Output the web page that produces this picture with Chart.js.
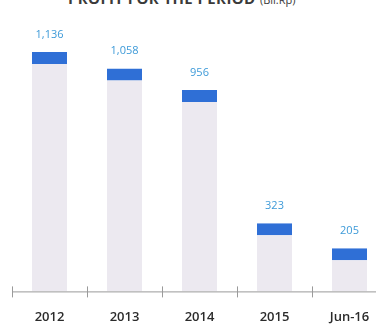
<!DOCTYPE html>
<html>
<head>
<meta charset="utf-8">
<script src="https://cdn.jsdelivr.net/npm/chart.js@4.4.1/dist/chart.umd.min.js"></script>
<style>
  html, body { margin: 0; padding: 0; background: #fff; overflow: hidden; }
  #wrap { position: relative; width: 376px; height: 324px; overflow: hidden; }
  #title {
    position: absolute; left: 68px; top: -9px; white-space: nowrap;
    font-family: "Open Sans", sans-serif; font-weight: 700; font-size: 15px; color: #3a3a3a;
    line-height: 15px; letter-spacing: 0.4px;
  }
  #title span { font-size: 11px; font-weight: 400; letter-spacing: 0; }
  #chartBox { position: absolute; left: 0; top: 0; width: 400px; height: 335px; }
</style>
</head>
<body>
<div id="wrap">
  <div id="title">PROFIT FOR THE PERIOD <span>(Bil.Rp)</span></div>
  <div id="chartBox"><canvas id="chart"></canvas></div>
</div>
<script>
const periods = ['2012', '2013', '2014', '2015', 'Jun-16'];
const profit = [1136, 1058, 956, 323, 205];

// 値ラベル（棒の上に表示）
const valueLabels = {
  id: 'valueLabels',
  afterDatasetsDraw(chart) {
    const ctx = chart.ctx;
    const meta = chart.getDatasetMeta(0);
    ctx.save();
    ctx.font = '11px "Open Sans", sans-serif';
    ctx.fillStyle = '#3d9ad8';
    ctx.textAlign = 'center';
    ctx.textBaseline = 'bottom';
    meta.data.forEach((bar, i) => {
      ctx.fillText(profit[i].toLocaleString('en-US'), bar.x, bar.y - 12);
    });
    ctx.restore();
  }
};

// X軸の目盛り線（軸をまたぐ短い線）
const axisTicks = {
  id: 'axisTicks',
  afterDraw(chart) {
    const ctx = chart.ctx;
    const x = chart.scales.x;
    const y = chart.chartArea.bottom;
    ctx.save();
    ctx.strokeStyle = '#9a9a9a';
    ctx.lineWidth = 1;
    ctx.beginPath();
    ctx.moveTo(x.left, y + 0.5);
    ctx.lineTo(x.right, y + 0.5);
    for (let i = 0; i <= periods.length; i++) {
      const px = Math.round(x.left + i * x.width / periods.length) + 0.5;
      ctx.moveTo(px, y - 5);
      ctx.lineTo(px, y + 6);
    }
    ctx.stroke();
    ctx.restore();
  }
};

new Chart(document.getElementById('chart'), {
  type: 'bar',
  data: {
    labels: periods,
    datasets: [{
      data: profit,
      backgroundColor: '#ece9f0',
      borderColor: '#2f6fd6',
      borderWidth: { top: 12, left: 0, right: 0, bottom: 0 },
      borderSkipped: 'bottom',
      categoryPercentage: 1,
      barPercentage: 0.467
    }]
  },
  options: {
    responsive: true,
    maintainAspectRatio: false,
    animation: false,
    layout: { padding: { left: 12, right: 13, top: 0, bottom: 0 } },
    plugins: { legend: { display: false }, tooltip: { enabled: false } },
    scales: {
      x: {
        grid: { display: false },
        border: { display: false },
        ticks: {
          padding: 10,
          color: '#2b2b2b',
          font: { family: '"Open Sans", sans-serif', size: 13, weight: '600' }
        }
      },
      y: {
        display: false,
        min: 0,
        max: 1383
      }
    }
  },
  plugins: [valueLabels, axisTicks]
});
</script>
</body>
</html>
